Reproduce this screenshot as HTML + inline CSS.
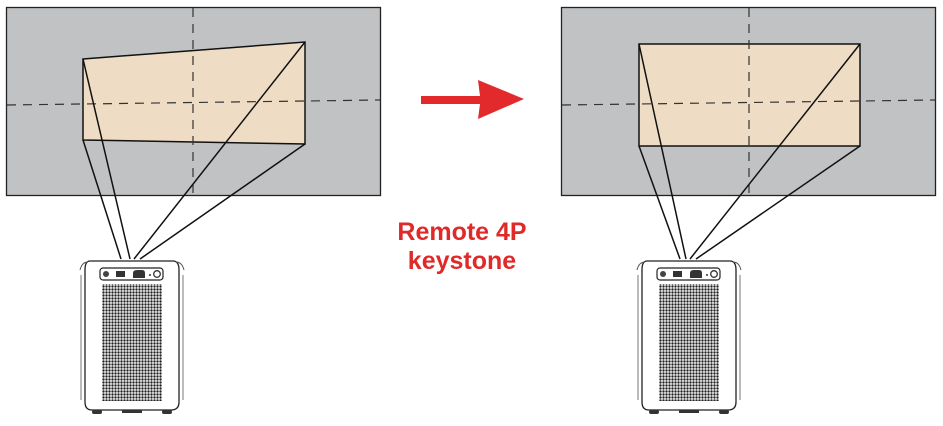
<!DOCTYPE html>
<html><head><style>
html,body{margin:0;padding:0;background:#fff;width:943px;height:426px;overflow:hidden}
.t{position:absolute;left:362px;width:200px;text-align:center;font-family:"Liberation Sans",sans-serif;font-weight:bold;font-size:25px;color:#e02a2a;line-height:29px}
</style></head><body>
<svg width="943" height="426" style="position:absolute;left:0;top:0">
<defs>
<pattern id="g" width="3" height="3" patternUnits="userSpaceOnUse">
<rect width="3" height="3" fill="#fff"/><circle cx="1.5" cy="1.5" r="1.2" fill="#222"/>
</pattern>
<g id="proj">
<path d="M90,261 H173 Q179,261 179,270 V402 Q179,410 171,410 H92 Q85,410 85,402 V270 Q85,261 90,261 Z" fill="#fff" stroke="#222" stroke-width="1.3"/>
<path d="M80,270 Q82,262 88,262 M184,270 Q182,262 176,262" fill="none" stroke="#555" stroke-width="1"/>
<line x1="81" y1="275" x2="81" y2="400" stroke="#777" stroke-width="1"/>
<line x1="183" y1="275" x2="183" y2="400" stroke="#777" stroke-width="1"/>
<rect x="100" y="268" width="63" height="12" rx="3" fill="#fff" stroke="#222" stroke-width="1.2"/>
<circle cx="106" cy="274" r="3" fill="#444"/>
<rect x="116" y="271" width="9" height="6" fill="#333"/>
<path d="M133,278 V273 Q133,270 137,270 H142 Q145,270 145,273 V278 Z" fill="#333"/>
<circle cx="150" cy="275" r="1" fill="#333"/>
<circle cx="157" cy="274" r="3.3" fill="none" stroke="#333" stroke-width="1.3"/>
<rect x="102" y="284" width="60" height="117" fill="url(#g)"/>
<rect x="92" y="410" width="10" height="4" rx="2" fill="#333"/>
<rect x="162" y="410" width="10" height="4" rx="2" fill="#333"/>
<rect x="122" y="410" width="20" height="3" fill="#333"/>
</g>
</defs>
<rect x="6.5" y="7.5" width="374" height="188" fill="#c1c2c4" stroke="#222" stroke-width="1.3"/>
<polygon points="83,59 305,42 305,144 83,140" fill="#efdcc4" stroke="#111" stroke-width="1.5"/>
<line x1="193" y1="8" x2="193" y2="195" stroke="#333" stroke-width="1.2" stroke-dasharray="9,7"/>
<line x1="7" y1="105" x2="380" y2="100" stroke="#333" stroke-width="1.2" stroke-dasharray="9,7"/>
<g stroke="#111" stroke-width="1.5">
<line x1="83" y1="140" x2="121" y2="259"/>
<line x1="83" y1="59" x2="130" y2="259"/>
<line x1="305" y1="42" x2="134" y2="259"/>
<line x1="305" y1="144" x2="140" y2="259"/>
</g>
<use href="#proj"/>
<rect x="561.5" y="7.5" width="374" height="188" fill="#c1c2c4" stroke="#222" stroke-width="1.3"/>
<rect x="639" y="44" width="221" height="102" fill="#efdcc4" stroke="#111" stroke-width="1.5"/>
<line x1="749" y1="8" x2="749" y2="195" stroke="#333" stroke-width="1.2" stroke-dasharray="9,7"/>
<line x1="562" y1="105" x2="935" y2="100" stroke="#333" stroke-width="1.2" stroke-dasharray="9,7"/>
<g stroke="#111" stroke-width="1.5">
<line x1="639" y1="146" x2="680" y2="259"/>
<line x1="639" y1="44" x2="686" y2="259"/>
<line x1="860" y1="44" x2="690" y2="259"/>
<line x1="860" y1="146" x2="696" y2="259"/>
</g>
<use href="#proj" transform="translate(557,0)"/>
<polygon points="421,96 480,96 478,80 524,99 478,119 480,104 421,104" fill="#e2292b"/>
</svg>
<div class="t" style="top:218px">Remote 4P<br>keystone</div>
</body></html>
